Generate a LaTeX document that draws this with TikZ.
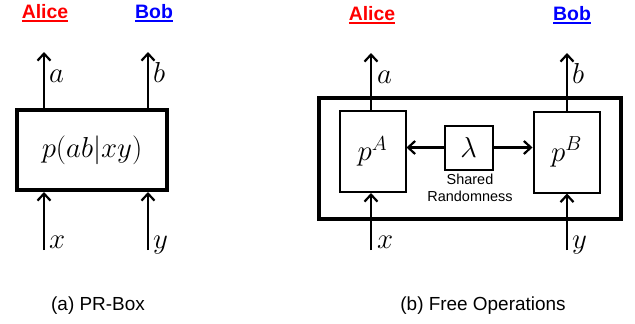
\RequirePackage{fix-cm}
\documentclass[tikz,border=0pt]{standalone}
\usepackage{fontspec}
\newfontfamily\arial{Liberation Sans}
\usepackage{xcolor}
\usepackage{tikz}
\usetikzlibrary{arrows.meta}

\definecolor{alicered}{RGB}{255,0,0}
\definecolor{bobblue}{RGB}{0,0,255}

% underlined party name
\newcommand{\partyname}[1]{\setbox0=\hbox{#1}\rlap{\rule[-3.5bp]{\wd0}{2bp}}\box0}

\begin{document}
\begin{tikzpicture}[x=1bp, y=-1bp,
  thickbox/.style={draw, line width=4bp, inner sep=0pt,
    font=\fontsize{29}{34}\selectfont},
  thinbox/.style={draw, line width=2bp, inner sep=0pt,
    font=\fontsize{29}{34}\selectfont},
  arr/.style={-{Straight Barb[length=7bp,width=13bp,line width=2.2bp]},
    line width=2.2bp},
  var/.style={inner sep=0pt, anchor=base west,
    font=\fontsize{29}{34}\selectfont},
  party/.style={inner sep=0pt, anchor=base,
    font=\arial\bfseries\fontsize{19.5}{22}\selectfont},
  caption/.style={inner sep=0pt, anchor=base,
    font=\arial\fontsize{19}{22}\selectfont},
]
\useasboundingbox (0,0) rectangle (635,323);

% (a) PR-Box
\node[party, text=alicered] (alicea) at (45,18.5) {\partyname{Alice}};
\node[party, text=bobblue] (boba) at (154,18.5) {\partyname{Bob}};

\node[thickbox, minimum width=150bp, minimum height=80bp] (prbox)
  at (92,150) {$p(ab|xy)$};

\coordinate (aouta) at (44,52);
\coordinate (bouta) at (148,52);
\coordinate (xina) at (44,250);
\coordinate (yina) at (148,250);

\draw[arr] (aouta |- prbox.north) -- (aouta);
\draw[arr] (bouta |- prbox.north) -- (bouta);
\draw[arr] (xina) -- (xina |- prbox.south);
\draw[arr] (yina) -- (yina |- prbox.south);

\node[var] (alabela) at (49,82) {$a$};
\node[var] (blabela) at (153,82) {$b$};
\node[var] (xlabela) at (49,248) {$x$};
\node[var] (ylabela) at (153,248) {$y$};

\node[caption] (capa) at (98,310) {(a) PR-Box};

% (b) Free Operations
\node[party, text=alicered] (aliceb) at (372,20.5) {\partyname{Alice}};
\node[party, text=bobblue] (bobb) at (572,20.5) {\partyname{Bob}};

\node[thickbox, minimum width=302bp, minimum height=121bp] (outer)
  at (470,158.5) {};

\node[thinbox, minimum width=66bp, minimum height=81bp] (pa)
  at (372.5,151.5) {$p^A$};
\node[thinbox, minimum width=66bp, minimum height=81bp] (pb)
  at (566.5,152) {$p^B$};
\node[thinbox, minimum width=48bp, minimum height=44bp] (lam)
  at (468.5,147.5) {$\lambda$};

\node[inner sep=0pt, align=center, anchor=north,
  font=\arial\fontsize{14.5}{16.5}\selectfont] (shared)
  at (470,174) {Shared\\Randomness};

\draw[arr] (lam.west) -- (lam.west -| pa.east);
\draw[arr] (lam.east) -- (lam.east -| pb.west);

\coordinate (aoutb) at (371,53);
\coordinate (boutb) at (567,53);
\coordinate (xinb) at (371,250);
\coordinate (yinb) at (567,250);

\draw[arr] (aoutb |- pa.north) -- (aoutb);
\draw[arr] (boutb |- pb.north) -- (boutb);
\draw[arr] (xinb) -- (xinb |- pa.south);
\draw[arr] (yinb) -- (yinb |- pb.south);

\node[var] (alabelb) at (377,83) {$a$};
\node[var] (blabelb) at (572,83) {$b$};
\node[var] (xlabelb) at (377,248) {$x$};
\node[var] (ylabelb) at (572,248) {$y$};

\node[caption] (capb) at (483,310) {(b) Free Operations};

\end{tikzpicture}
\end{document}
